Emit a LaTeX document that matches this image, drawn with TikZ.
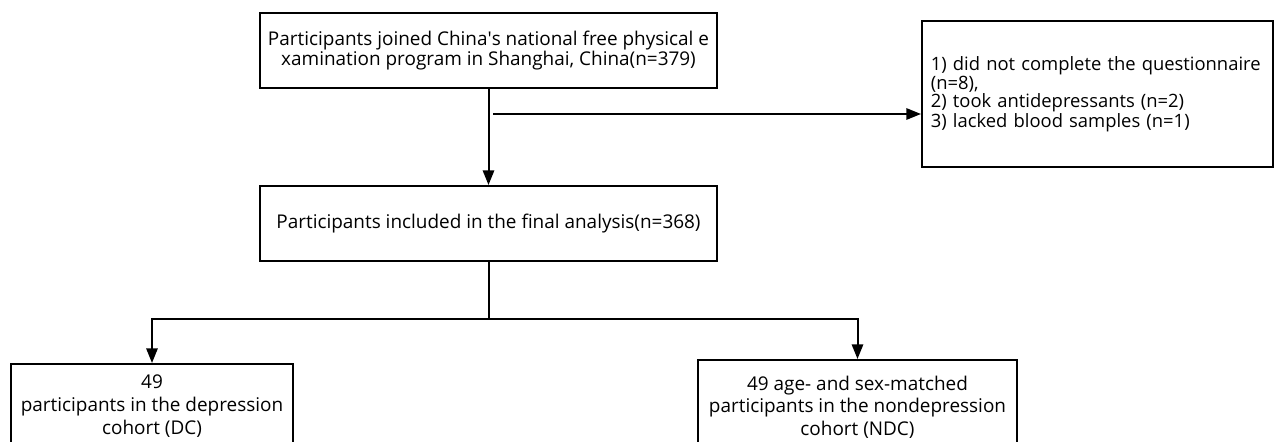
\documentclass[tikz,border=0pt]{standalone}
\usepackage{fontspec}
\setmainfont{Open Sans}
\usetikzlibrary{arrows.meta,positioning}

\begin{document}
\begin{tikzpicture}[
    x=0.75pt, y=-0.75pt,
    box/.style={rectangle,draw=black,line width=1.5pt,align=center,inner sep=0pt,
      font=\fontsize{14.2}{15}\selectfont},
    flowbox/.style={box,minimum width=342.75pt,minimum height=56.25pt},
    exclbox/.style={box,align=left,text width=250pt,minimum width=263.25pt,
      minimum height=109.5pt,font=\fontsize{13.8}{12}\selectfont},
    cohort/.style={box,anchor=north,font=\fontsize{14.2}{17}\selectfont},
    link/.style={line width=1.5pt},
    arrow/.style={link,-{Triangle[length=11pt,width=8.5pt]}}
  ]
    \useasboundingbox (0,0) rectangle (1275,442);
    \clip (0,0) rectangle (1275,442);

    \node[flowbox] (joined) at (488.5,50.5)
      {Participants joined China\textquotesingle s national free physical e\\xamination program in Shanghai, China(n=379)};
    \node[flowbox] (final) at (488.5,223.5)
      {Participants included in the final analysis(n=368)};
    \node[exclbox] (excl) at (1097.5,94)
      {1) did not complete the questionnaire\\(n=8),\\2) took antidepressants (n=2)\\3) lacked blood samples (n=1)\par\vspace*{12pt}};
    \node[cohort,minimum width=211.5pt,minimum height=63pt] (dc) at (152,363)
      {49\\participants in the depression\\cohort (DC)};
    \node[cohort,minimum width=239.25pt,minimum height=70.5pt] (ndc) at (857.5,359)
      {49 age- and sex-matched\\participants in the nondepression\\cohort (NDC)};

    \coordinate (branch) at (493,114);
    \coordinate (fork) at (488.5,319);

    \draw[arrow] (joined) -- (final);
    \draw[arrow] (branch) -- (branch -| excl.west);
    \draw[link] (final) -- (fork);
    \draw[arrow] (fork) -| (dc.north);
    \draw[arrow] (fork) -| (ndc.north);
  \end{tikzpicture}
\end{document}
